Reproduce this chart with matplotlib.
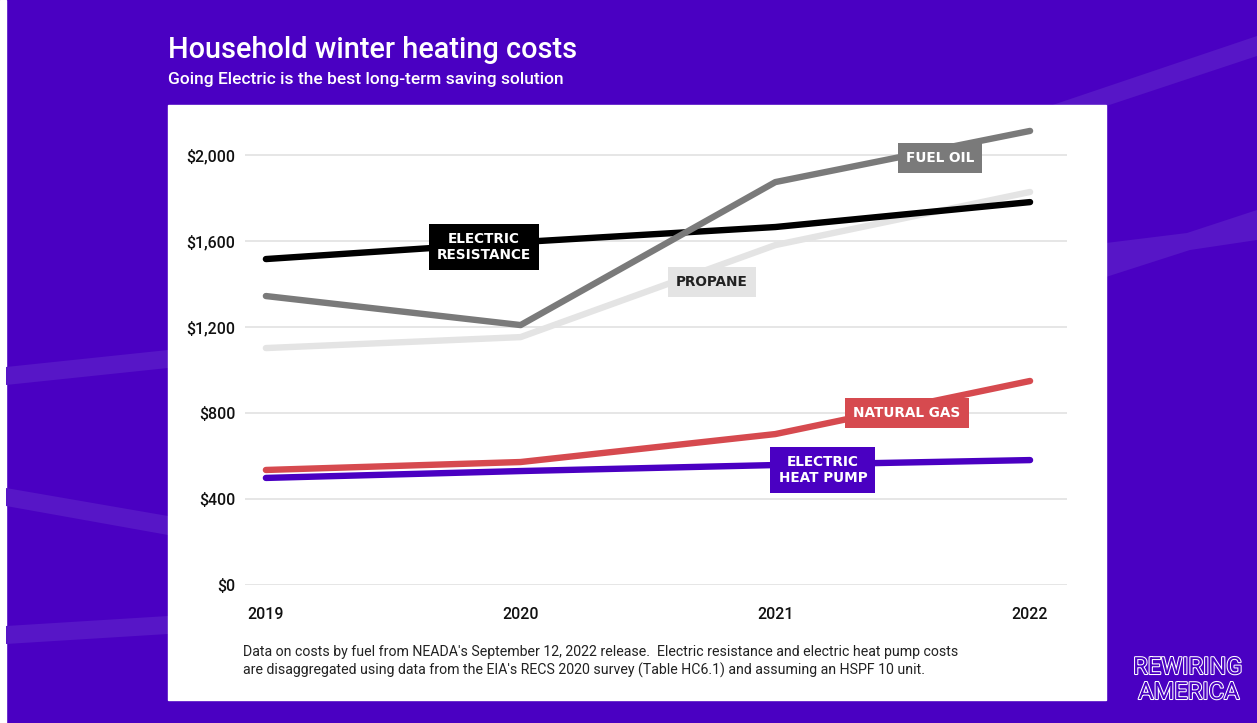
import matplotlib
matplotlib.use('Agg')
import matplotlib.pyplot as plt
import matplotlib.patheffects as pe
from matplotlib.patches import Polygon, Rectangle

# data
years = [2019, 2020, 2021, 2022]
electric_resistance = [1516, 1595, 1665, 1781]
fuel_oil = [1344, 1209, 1874, 2112]
propane = [1102, 1153, 1581, 1828]
natural_gas = [535, 572, 702, 949]
heat_pump = [498, 530, 558, 581]
yticks = [0, 400, 800, 1200, 1600, 2000]
ytick_labels = ["$0", "$400", "$800", "$1,200", "$1,600", "$2,000"]

BG = "#4a00c2"
STRIPE = "#5716c7"

fig = plt.figure(figsize=(12.57, 7.23), dpi=100)
fig.patch.set_facecolor(BG)

# background layer in pixel coords
bg = fig.add_axes([0, 0, 1, 1])
bg.set_xlim(0, 1257)
bg.set_ylim(723, 0)
bg.axis('off')
bg.add_patch(Rectangle((0, 0), 6, 723, color="white", zorder=1))
stripes = [
    [(1020, 116), (1257, 36), (1257, 56), (1040, 128)],
    [(1106, 243), (1187, 233), (1257, 210), (1257, 240), (1190, 250), (1106, 277)],
    [(6, 367), (168, 350), (168, 368), (6, 385)],
    [(6, 488), (168, 516), (168, 535), (6, 506)],
    [(6, 626), (168, 616), (168, 634), (6, 644)],
]
for s in stripes:
    bg.add_patch(Polygon(s, closed=True, color=STRIPE, lw=0, zorder=1))
bg.add_patch(Rectangle((168, 105), 938, 595, color="white", zorder=2))

bg.text(168, 58, "Household winter heating costs", color="white", fontsize=20.8,
        fontfamily="Roboto", fontweight="medium", zorder=3)
bg.text(168, 84, "Going Electric is the best long-term saving solution", color="white",
        fontsize=12.5, fontfamily="Roboto", fontweight="medium", zorder=3)
note1 = "Data on costs by fuel from NEADA's September 12, 2022 release.  Electric resistance and electric heat pump costs"
note2 = "are disaggregated using data from the EIA's RECS 2020 survey (Table HC6.1) and assuming an HSPF 10 unit."
bg.text(243, 656, note1, color="#222222", fontsize=10.15, fontfamily="Roboto", zorder=3)
bg.text(243, 675, note2, color="#222222", fontsize=10.15, fontfamily="Roboto", zorder=3)

logo_fx = [pe.withStroke(linewidth=1.5, foreground="white")]
bg.text(1188, 674, "REWIRING", color=BG, fontsize=17, fontfamily="Roboto",
        ha="center", path_effects=logo_fx, zorder=3)
bg.text(1189, 699, "AMERICA", color=BG, fontsize=17, fontfamily="Roboto",
        ha="center", path_effects=logo_fx, zorder=3)

# chart
ax = fig.add_axes([245 / 1257, 138 / 723, 822 / 1257, 483.75 / 723])
ax.patch.set_alpha(0)
ax.set_xlim(2018.918, 2022.145)
ax.set_ylim(0, 2250)
for side in ax.spines.values():
    side.set_visible(False)
ax.set_yticks(yticks)
ax.set_yticklabels(ytick_labels)
ax.set_xticks(years)
ax.set_xticklabels([str(y) for y in years])
ax.tick_params(length=0, labelsize=11.5, labelcolor="#111111")
ax.tick_params(axis='y', pad=7)
ax.tick_params(axis='x', pad=16)
for lab in ax.get_xticklabels() + ax.get_yticklabels():
    lab.set_fontfamily("Roboto")
    lab.set_fontweight("medium")
ax.grid(axis='y', color="#e2e2e2", lw=1.2)
ax.set_axisbelow(True)

lw = 4.6
ax.plot(years, propane, color="#e4e4e4", lw=lw, solid_capstyle="round", solid_joinstyle="round", zorder=3)
ax.plot(years, electric_resistance, color="black", lw=lw, solid_capstyle="round", solid_joinstyle="round", zorder=4)
ax.plot(years, fuel_oil, color="#7a7a7a", lw=lw, solid_capstyle="round", solid_joinstyle="round", zorder=5)
ax.plot(years, heat_pump, color=BG, lw=lw, solid_capstyle="round", solid_joinstyle="round", zorder=3)
ax.plot(years, natural_gas, color="#d64a4f", lw=lw, solid_capstyle="round", solid_joinstyle="round", zorder=4)

labels = [
    ("ELECTRIC\nRESISTANCE", 2019.856, 1572, "black", "white"),
    ("PROPANE", 2020.751, 1409, "#e4e4e4", "#222222"),
    ("FUEL OIL", 2021.646, 1986, "#7a7a7a", "white"),
    ("NATURAL GAS", 2021.516, 800, "#d64a4f", "white"),
    ("ELECTRIC\nHEAT PUMP", 2021.187, 535, BG, "white"),
]
for txt, x, y, fc, tc in labels:
    ax.text(x, y, txt, ha="center", va="center", color=tc, fontsize=9.8,
            fontfamily="DejaVu Sans", fontweight="bold", linespacing=1.1, zorder=6,
            bbox=dict(boxstyle="square,pad=0.6", fc=fc, ec="none"))

fig.savefig("out.png", dpi=100, facecolor=BG)
